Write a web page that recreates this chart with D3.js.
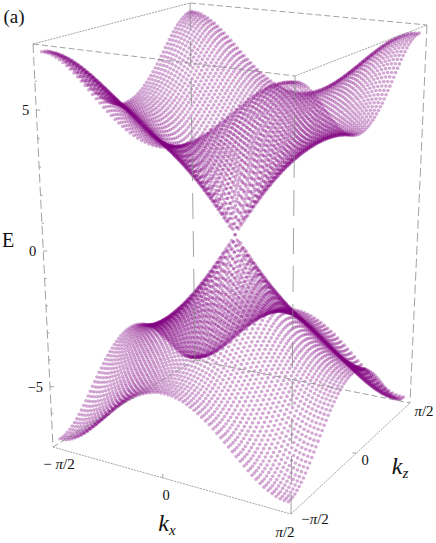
<!DOCTYPE html>
<html>
<head>
<meta charset="utf-8">
<script src="https://cdn.jsdelivr.net/npm/d3@7"></script>
<style>
body { margin: 0; background: #fff; }
text { font-family: "Liberation Serif", serif; fill: #111; }
</style>
</head>
<body>
<div id="chart"></div>
<script>
// energia de la banda superior (cuadrante kx>=0, kz>=0), la inferior es el espejo
var kIndex = d3.range(-32, 33);
var energyRows = [
    [0],
    [.24,.33],
    [.47,.53,.66],
    [.70,.74,.84,.99],
    [.93,.96,1.04,1.16,1.31],
    [1.15,1.18,1.24,1.34,1.47,1.61],
    [1.37,1.39,1.44,1.53,1.64,1.77,1.91],
    [1.58,1.60,1.65,1.72,1.82,1.93,2.06,2.19],
    [1.79,1.80,1.84,1.90,1.99,2.09,2.21,2.33,2.46],
    [1.98,1.99,2.03,2.09,2.16,2.26,2.36,2.47,2.59,2.72],
    [2.17,2.18,2.21,2.26,2.33,2.42,2.51,2.62,2.73,2.85,2.96],
    [2.35,2.36,2.39,2.43,2.50,2.57,2.66,2.76,2.86,2.97,3.08,3.20],
    [2.52,2.53,2.55,2.60,2.66,2.72,2.81,2.90,3.00,3.10,3.21,3.31,3.43],
    [2.68,2.69,2.71,2.75,2.81,2.87,2.95,3.03,3.13,3.22,3.33,3.43,3.54,3.65],
    [2.84,2.85,2.87,2.90,2.95,3.01,3.08,3.17,3.25,3.35,3.44,3.55,3.65,3.76,3.87],
    [2.98,2.99,3.01,3.04,3.09,3.15,3.22,3.29,3.38,3.47,3.56,3.66,3.76,3.87,3.98,4.08],
    [3.12,3.13,3.15,3.18,3.22,3.28,3.34,3.42,3.50,3.59,3.68,3.77,3.88,3.98,4.08,4.19,4.30],
    [3.25,3.26,3.28,3.31,3.35,3.40,3.47,3.54,3.62,3.70,3.79,3.89,3.98,4.09,4.19,4.30,4.41,4.52],
    [3.38,3.38,3.40,3.43,3.47,3.52,3.58,3.65,3.73,3.81,3.90,3.99,4.09,4.20,4.30,4.41,4.52,4.63,4.74],
    [3.49,3.50,3.52,3.55,3.59,3.64,3.69,3.76,3.84,3.92,4.01,4.10,4.20,4.30,4.41,4.52,4.63,4.74,4.86,4.97],
    [3.61,3.61,3.63,3.66,3.69,3.74,3.80,3.87,3.94,4.02,4.11,4.20,4.30,4.40,4.51,4.62,4.73,4.85,4.97,5.08,5.20],
    [3.71,3.71,3.73,3.76,3.80,3.84,3.90,3.97,4.04,4.12,4.21,4.30,4.40,4.50,4.61,4.72,4.84,4.96,5.07,5.19,5.31,5.42],
    [3.81,3.81,3.83,3.86,3.89,3.94,3.99,4.06,4.13,4.21,4.30,4.39,4.50,4.60,4.71,4.82,4.94,5.06,5.18,5.30,5.42,5.54,5.65],
    [3.89,3.90,3.91,3.94,3.98,4.03,4.08,4.15,4.22,4.30,4.38,4.48,4.59,4.69,4.80,4.92,5.04,5.16,5.28,5.40,5.52,5.64,5.76,5.87],
    [3.98,3.98,4.00,4.02,4.06,4.11,4.16,4.23,4.30,4.38,4.47,4.57,4.67,4.77,4.89,5.00,5.12,5.25,5.37,5.50,5.62,5.74,5.86,5.97,6.08],
    [4.05,4.05,4.07,4.10,4.13,4.18,4.24,4.30,4.37,4.46,4.55,4.64,4.74,4.85,4.97,5.08,5.21,5.33,5.46,5.58,5.71,5.83,5.95,6.07,6.17,6.27],
    [4.11,4.12,4.13,4.16,4.20,4.25,4.30,4.37,4.44,4.52,4.61,4.71,4.81,4.92,5.04,5.16,5.28,5.41,5.53,5.66,5.79,5.92,6.04,6.15,6.26,6.36,6.45],
    [4.17,4.18,4.19,4.22,4.25,4.30,4.36,4.42,4.50,4.58,4.67,4.77,4.87,4.98,5.10,5.22,5.34,5.47,5.60,5.73,5.86,5.99,6.11,6.23,6.34,6.44,6.53,6.61],
    [4.22,4.22,4.24,4.26,4.30,4.35,4.40,4.47,4.55,4.63,4.72,4.82,4.92,5.03,5.15,5.27,5.40,5.53,5.66,5.79,5.92,6.05,6.17,6.29,6.40,6.50,6.60,6.68,6.75],
    [4.25,4.26,4.27,4.30,4.34,4.38,4.44,4.51,4.58,4.67,4.76,4.86,4.96,5.07,5.19,5.32,5.44,5.57,5.70,5.84,5.97,6.10,6.22,6.34,6.45,6.56,6.65,6.73,6.80,6.85],
    [4.28,4.29,4.30,4.33,4.36,4.41,4.47,4.53,4.61,4.69,4.78,4.88,4.99,5.10,5.22,5.35,5.47,5.60,5.74,5.87,6.00,6.13,6.26,6.38,6.49,6.60,6.69,6.77,6.84,6.90,6.93],
    [4.30,4.30,4.32,4.34,4.38,4.43,4.49,4.55,4.63,4.71,4.80,4.90,5.01,5.12,5.24,5.36,5.49,5.62,5.76,5.89,6.02,6.15,6.28,6.40,6.51,6.62,6.71,6.79,6.86,6.91,6.96,6.98],
    [4.30,4.31,4.32,4.35,4.39,4.43,4.49,4.56,4.63,4.72,4.81,4.91,5.01,5.13,5.25,5.37,5.50,5.63,5.76,5.90,6.03,6.16,6.29,6.41,6.52,6.63,6.72,6.80,6.87,6.93,6.97,6.99,7.00]
];
var sheets = [1, -1];
var eTicks = [5, 0, -5];
var eMinorTicks = [6, 4, 3, 2, 1, -1, -2, -3, -4, -6];

var w = 436;
var h = 543;

// esquinas de la caja: izquierda, frente, fondo, derecha
var topCorners = [[33, 44], [295, 76], [190, 3], [427, 25]];
var bottomCorners = [[53, 447], [291, 514], [195, 360], [410, 403]];

var n = d3.max(kIndex);
var kScale = d3.scaleLinear().domain([-n, n]).range([0.02, 0.98]);
var eScale = d3.scaleLinear().domain([7.28, -7.28]).range([0, 1]);
var depth = 0.056;

function quad(c) {
    var dx1 = c[1][0] - c[3][0], dy1 = c[1][1] - c[3][1];
    var dx2 = c[2][0] - c[3][0], dy2 = c[2][1] - c[3][1];
    var sx = c[0][0] - c[1][0] + c[3][0] - c[2][0];
    var sy = c[0][1] - c[1][1] + c[3][1] - c[2][1];
    var det = dx1 * dy2 - dx2 * dy1;
    var a = (sx * dy2 - dx2 * sy) / det;
    var b = (dx1 * sy - sx * dy1) / det;
    return function(u, v) {
        var d = 1 + a * u + b * v;
        return [
            (c[0][0] + u * (c[1][0] * (1 + a) - c[0][0]) + v * (c[2][0] * (1 + b) - c[0][0])) / d,
            (c[0][1] + u * (c[1][1] * (1 + a) - c[0][1]) + v * (c[2][1] * (1 + b) - c[0][1])) / d
        ];
    };
}
var quadTop = quad(topCorners);
var quadBottom = quad(bottomCorners);

// u = kx, v = kz, t = 0 arriba de la caja, 1 abajo
function project(u, v, t) {
    var f = t * (1 + depth) / (1 + depth * t);
    var p = quadTop(u, v);
    var q = quadBottom(u, v);
    return [p[0] + (q[0] - p[0]) * f, p[1] + (q[1] - p[1]) * f];
}

function energy(i, j) {
    var a = Math.abs(i), b = Math.abs(j);
    return energyRows[Math.max(a, b)][Math.min(a, b)];
}

var points = [];
sheets.forEach(function(s) {
    kIndex.forEach(function(i) {
        kIndex.forEach(function(j) {
            points.push(project(kScale(i), kScale(j), eScale(s * energy(i, j))));
        });
    });
});

var svg = d3.select('#chart')
    .append('svg')
    .attr('width', w)
    .attr('height', h);

svg.selectAll('circle')
    .data(points)
    .enter()
    .append('circle')
    .attr('cx', function(d) { return d[0]; })
    .attr('cy', function(d) { return d[1]; })
    .attr('r', 1.8)
    .attr('fill', 'purple')
    .attr('fill-opacity', 0.34);

// caja
var edges = [
    [[0, 0, 0], [0, 0, 1], '9 4'],
    [[1, 1, 0], [1, 1, 1], '9 4'],
    [[1, 0, 0], [1, 0, 1], '26 12'],
    [[0, 1, 0], [0, 1, 1], '26 12'],
    [[0, 0, 0], [1, 0, 0], '6 3'],
    [[0, 0, 0], [0, 1, 0], '2 1'],
    [[0, 1, 0], [1, 1, 0], '6 3'],
    [[1, 0, 0], [1, 1, 0], '2 1'],
    [[0, 0, 1], [1, 0, 1], '2 1'],
    [[1, 0, 1], [1, 1, 1], '2 1'],
    [[0, 0, 1], [0, 1, 1], '6 3'],
    [[0, 1, 1], [1, 1, 1], '6 3']
];
var pts = edges.map(function(e) {
    return { a: project(e[0][0], e[0][1], e[0][2]), b: project(e[1][0], e[1][1], e[1][2]), dash: e[2] };
});
svg.selectAll('line.edge')
    .data(pts)
    .enter()
    .append('line')
    .attr('class', 'edge')
    .attr('x1', function(d) { return d.a[0]; })
    .attr('y1', function(d) { return d.a[1]; })
    .attr('x2', function(d) { return d.b[0]; })
    .attr('y2', function(d) { return d.b[1]; })
    .attr('stroke', '#8a8a8a')
    .attr('stroke-width', 0.8)
    .attr('stroke-dasharray', function(d) { return d.dash; });

// marcas del eje E
function eTick(val, len) {
    var p = project(0, 0, eScale(val));
    svg.append('line')
        .attr('x1', p[0]).attr('y1', p[1])
        .attr('x2', p[0] + len).attr('y2', p[1])
        .attr('stroke', '#8a8a8a')
        .attr('stroke-width', 0.8);
    return p;
}
eMinorTicks.forEach(function(v) { eTick(v, 2); });
eTicks.forEach(function(v) {
    var p = eTick(v, 4);
    svg.append('text')
        .attr('x', p[0] - 7)
        .attr('y', p[1] + 5)
        .attr('text-anchor', 'end')
        .attr('font-size', 14.5)
        .text(v < 0 ? '\u2212' + Math.abs(v) : v);
});

function piLabel(x, y, neg) {
    var t = svg.append('text')
        .attr('x', x)
        .attr('y', y)
        .attr('text-anchor', 'middle')
        .attr('font-size', 15);
    if (neg) t.append('tspan').text(neg);
    t.append('tspan').attr('font-style', 'italic').text('\u03c0');
    t.append('tspan').text('/2');
}
function plainLabel(x, y, s, size, style) {
    return svg.append('text')
        .attr('x', x)
        .attr('y', y)
        .attr('text-anchor', 'middle')
        .attr('font-size', size)
        .attr('font-style', style || 'normal')
        .text(s);
}
function subLabel(x, y, s, sub) {
    var t = plainLabel(x, y, s, 24, 'italic');
    t.append('tspan').attr('font-size', 15).attr('dy', 4).text(sub);
}

var tickMid = project(0.5, 0, 1);
svg.append('line').attr('x1', tickMid[0]).attr('y1', tickMid[1]).attr('x2', tickMid[0]).attr('y2', tickMid[1] - 4).attr('stroke', '#8a8a8a').attr('stroke-width', 0.8);
var tickMid2 = project(1, 0.5, 1);
svg.append('line').attr('x1', tickMid2[0]).attr('y1', tickMid2[1]).attr('x2', tickMid2[0] - 4).attr('y2', tickMid2[1]).attr('stroke', '#8a8a8a').attr('stroke-width', 0.8);

piLabel(59, 469, '\u2212 ');
plainLabel(166, 500, '0', 14.5);
piLabel(285, 537);
piLabel(315, 524, '\u2212');
plainLabel(365, 465, '0', 14.5);
piLabel(424, 416);

subLabel(167, 531, 'k', 'x');
subLabel(400, 474, 'k', 'z');
plainLabel(8, 247, 'E', 20);
plainLabel(14, 23, '(a)', 19);
</script>
</body>
</html>
